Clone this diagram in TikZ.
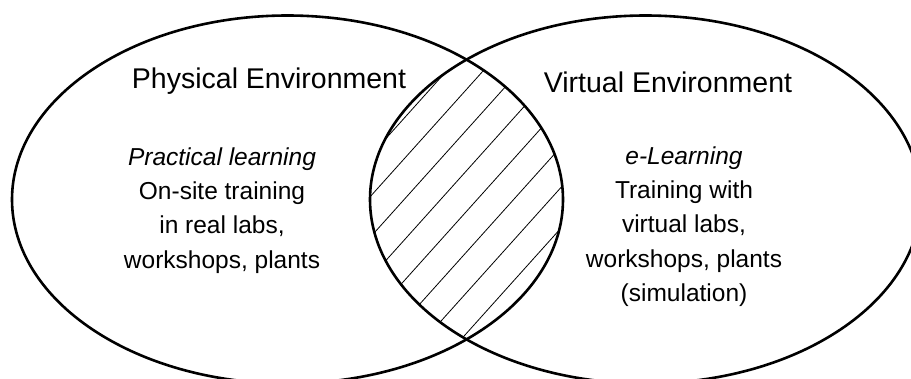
\documentclass[tikz,border=0pt]{standalone}
\usepackage{fontspec}
\setmainfont{Liberation Sans}

\begin{document}
\begin{tikzpicture}[x=1pt,y=-1pt]
\useasboundingbox (0,0) rectangle (911,378);
\clip (0,0) rectangle (911,378);
\coordinate (pc) at (287.5,199.5);
\coordinate (vc) at (645.5,199.5);
\begin{scope}
	\clip (pc) ellipse [x radius=275.5pt, y radius=184pt];
	\clip (vc) ellipse [x radius=275.5pt, y radius=184pt];
	\foreach \k in {-6,...,6}
		\draw[line width=0.8pt] (476.7+36.5*\k-167, 386) -- ++(334,-372);
\end{scope}
\draw[line width=2.6pt] (pc) ellipse [x radius=275.5pt, y radius=184pt];
\draw[line width=2.6pt] (vc) ellipse [x radius=275.5pt, y radius=184pt];
\begin{scope}[every node/.style={inner sep=0pt,align=center,anchor=base}]
	\node[font=\fontsize{28.5}{34}\selectfont] (penv) at (269,88.3) {Physical Environment};
	\node[font=\fontsize{28.5}{34}\selectfont] (venv) at (668,92.7) {Virtual Environment};
	\node[font=\fontsize{24.5}{34.4}\selectfont] (ptxt) at (222,268.3) {\textit{Practical learning}\\On-site training\\in real labs,\\workshops, plants};
	\node[font=\fontsize{24.5}{34.4}\selectfont] (vtxt) at (684,301.7) {\textit{e-Learning}\\Training with\\virtual labs,\\workshops, plants\\(simulation)};
\end{scope}
\end{tikzpicture}
\end{document}
